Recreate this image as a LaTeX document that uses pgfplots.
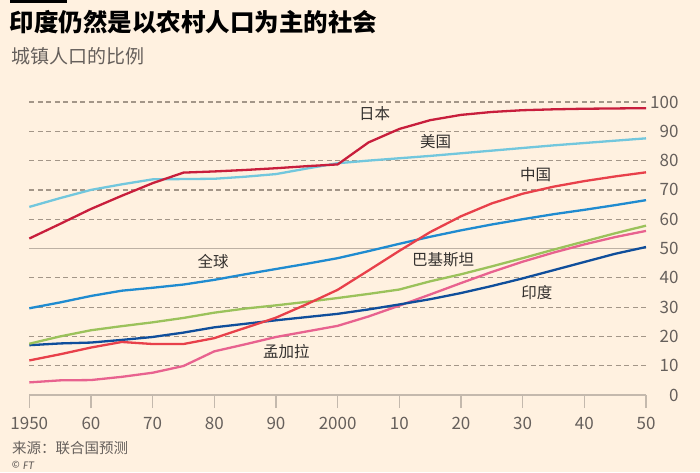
\documentclass[border=0pt]{standalone}
\usepackage{fontspec}
\setmainfont{Noto Sans CJK SC}
\newfontfamily\ftfont{Fira Sans}
\usepackage{pgfplots}
\pgfplotsset{compat=1.18}
\usepackage{pgfplotstable}
\definecolor{bg}{HTML}{FFF1E0}
\definecolor{gridc}{HTML}{A39688}
\definecolor{gridm}{HTML}{BDB1A4}
\definecolor{axisc}{HTML}{C4B9AD}
\definecolor{txt}{HTML}{66605C}
\definecolor{lab}{HTML}{33302E}
\definecolor{cjapan}{HTML}{C81E3C}
\definecolor{cusa}{HTML}{72C7DD}
\definecolor{cchina}{HTML}{E8404A}
\definecolor{cworld}{HTML}{1F8BD0}
\definecolor{cpak}{HTML}{9BC25B}
\definecolor{cindia}{HTML}{0F4E9B}
\definecolor{cbang}{HTML}{E8628F}

\pgfplotstableread{
year japan usa china world pak india bang
1950 53.4 64.2 11.8 29.6 17.5 17.0 4.3
1955 58.4 67.2 13.9 31.6 20.0 17.6 5.0
1960 63.5 70.0 16.2 33.8 22.1 17.9 5.1
1965 68.0 71.9 18.1 35.6 23.5 18.8 6.2
1970 72.3 73.6 17.4 36.6 24.8 19.8 7.6
1975 75.9 73.7 17.4 37.7 26.3 21.3 9.9
1980 76.3 73.8 19.4 39.3 28.1 23.1 14.9
1985 76.8 74.5 22.9 41.2 29.5 24.3 17.3
1990 77.4 75.4 26.4 43.0 30.6 25.5 19.8
1995 78.1 77.3 31.0 44.8 31.8 26.6 21.7
2000 78.7 79.1 35.9 46.7 33.1 27.7 23.6
2005 86.2 80.0 42.5 49.1 34.5 29.2 26.8
2010 90.8 80.8 49.2 51.6 36.0 30.9 30.5
2015 93.8 81.6 55.6 54.0 38.8 32.7 34.3
2020 95.6 82.5 61.0 56.2 41.2 34.8 38.2
2025 96.6 83.4 65.4 58.2 43.9 37.2 42.0
2030 97.2 84.3 68.7 60.0 46.7 39.8 45.5
2035 97.5 85.2 71.1 61.7 49.6 42.6 48.6
2040 97.7 86.0 73.0 63.2 52.4 45.4 51.4
2045 97.8 86.8 74.6 64.8 55.2 48.2 53.9
2050 97.9 87.6 76.0 66.5 57.8 50.5 56.0
}\data

\begin{document}
\begin{tikzpicture}[x=1pt,y=1pt]
\fill[bg] (0,0) rectangle (700,472);
\fill[black] (10,469.3) rectangle (66.7,472);
\node[anchor=base west, inner sep=0, font=\fontsize{24.5}{28}\selectfont\bfseries] at (9.5,440.5) {印度仍然是以农村人口为主的社会};
\node[anchor=base west, inner sep=0, text=txt, font=\fontsize{19}{22}\selectfont] at (10.8,408.3) {城镇人口的比例};
\node[anchor=base west, inner sep=0, text=txt, font=\fontsize{14.5}{17}\selectfont] at (12,18.5) {来源：联合国预测};
\node[anchor=base west, inner sep=0, text=txt, font=\ftfont\itshape\fontsize{11}{13}\selectfont] at (11,2.8) {© FT};
\begin{axis}[
  at={(29.3pt,77pt)}, anchor=south west, scale only axis,
  width=616.7pt, height=293pt,
  xmin=1950, xmax=2050, ymin=0, ymax=100,
  axis x line=bottom, axis y line=right,
  x axis line style={-, draw=axisc, line width=1.5pt},
  y axis line style={draw=none},
  xtick={1950,1960,...,2050},
  xticklabels={1950,60,70,80,90,2000,10,20,30,40,50},
  ytick={0,10,...,100},
  yticklabels={0,10,20,30,40,50,60,70,80,90,100},
  tick align=outside, major tick length=13pt,
  xtick style={draw=axisc, line width=1.2pt},
  ytick style={draw=none},
  ticklabel style={text=txt, font=\fontsize{17}{20}\selectfont},
  xticklabel style={anchor=north, yshift=-6pt},
  yticklabel style={anchor=east, xshift=23pt},
  clip=false,
  every axis plot/.append style={line width=2.3pt, line join=round},
]
\addplot[gridc, line width=1.2pt, dash pattern=on 5pt off 3.5pt, forget plot] coordinates {(1950,10) (2050,10)};
\addplot[gridc, line width=1.2pt, dash pattern=on 5pt off 3.5pt, forget plot] coordinates {(1950,20) (2050,20)};
\addplot[gridc, line width=1.2pt, dash pattern=on 5pt off 3.5pt, forget plot] coordinates {(1950,30) (2050,30)};
\addplot[gridc, line width=1.2pt, dash pattern=on 5pt off 3.5pt, forget plot] coordinates {(1950,40) (2050,40)};
\addplot[gridm, line width=1.1pt, forget plot] coordinates {(1950,50) (2050,50)};
\addplot[gridc, line width=1.2pt, dash pattern=on 5pt off 3.5pt, forget plot] coordinates {(1950,60) (2050,60)};
\addplot[gridc, line width=1.2pt, dash pattern=on 5pt off 3.5pt, forget plot] coordinates {(1950,70) (2050,70)};
\addplot[gridc, line width=1.2pt, dash pattern=on 5pt off 3.5pt, forget plot] coordinates {(1950,80) (2050,80)};
\addplot[gridc, line width=1.2pt, dash pattern=on 5pt off 3.5pt, forget plot] coordinates {(1950,90) (2050,90)};
\addplot[gridc, line width=1.2pt, dash pattern=on 5pt off 3.5pt, forget plot] coordinates {(1950,100) (2050,100)};
\addplot[cbang] table[x=year,y=bang]{\data};
\addplot[cindia] table[x=year,y=india]{\data};
\addplot[cpak] table[x=year,y=pak]{\data};
\addplot[cworld] table[x=year,y=world]{\data};
\addplot[cchina] table[x=year,y=china]{\data};
\addplot[cusa] table[x=year,y=usa]{\data};
\addplot[cjapan] table[x=year,y=japan]{\data};
\begin{scope}[every node/.style={text=lab, font=\fontsize{15.5}{18}\selectfont, inner sep=0}]
\node at (axis cs:2006.0,95.9) {日本};
\node at (axis cs:2015.9,86.5) {美国};
\node at (axis cs:2032.1,75.3) {中国};
\node at (axis cs:1979.8,45.5) {全球};
\node at (axis cs:2017.1,46.1) {巴基斯坦};
\node at (axis cs:2032.3,34.9) {印度};
\node at (axis cs:1991.7,14.8) {孟加拉};
\end{scope}
\end{axis}
\end{tikzpicture}
\end{document}
